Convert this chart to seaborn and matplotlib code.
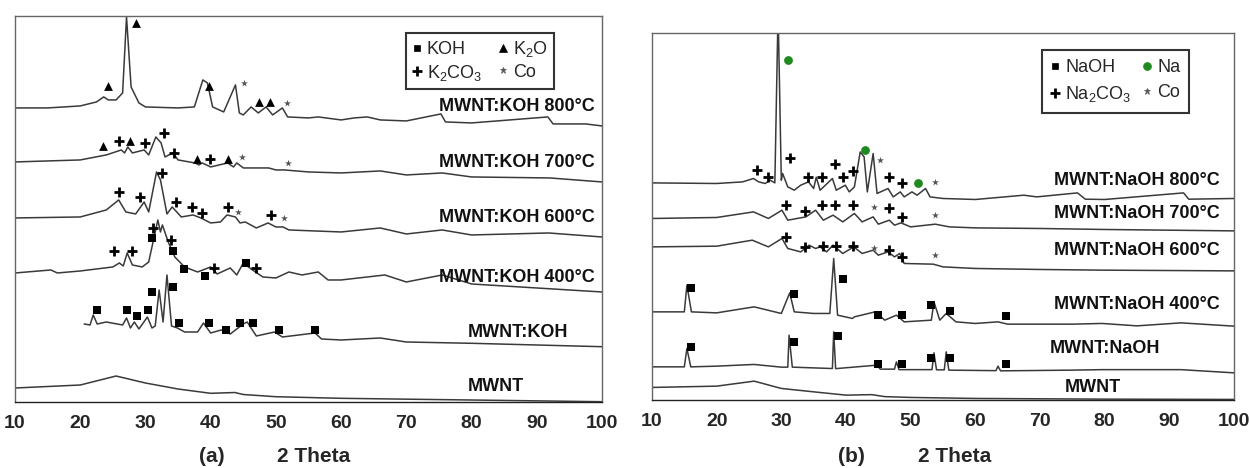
import pandas as pd
import seaborn as sns
import matplotlib.pyplot as plt
from matplotlib.lines import Line2D

# ---- panel (a): MWNT + KOH, 2 theta vs stacked intensity (a.u.) ----
a_mwnt_x = [10, 20, 25.5, 30, 35, 40, 43.7, 45, 50, 60, 80, 100]
a_mwnt_y = [14, 17, 26, 19, 13, 8.7, 9.5, 7.5, 5.3, 3.7, 2, 0.3]

a_koh_x = [20.6, 21.5, 22, 22.6, 24, 26.5, 27.1, 27.7, 28.3, 29, 30.3, 31, 31.5, 32.1, 32.7, 33.3,
           34, 34.9, 36, 38, 38.9, 40, 41.6, 43, 45, 45.6, 47, 49.8, 51, 56, 57, 60, 66, 70, 80, 100]
a_koh_y = [78, 77, 87, 78, 80, 77, 84, 74, 80, 73, 85, 74, 76, 112, 80, 127,
           76, 74, 70, 70, 79, 69, 72, 68, 78, 80, 66, 70, 65, 69, 63, 62, 64, 60, 58.7, 55.3]

a_400_x = [10, 15.5, 16.5, 20, 25, 26, 26.6, 27.2, 28, 29.5, 30.5, 31.9, 32.3, 32.6, 33.5, 34.5,
           36, 38, 40, 41, 43, 44, 45, 46.2, 48, 50, 52, 54, 56.5, 58, 60, 66.7, 70, 75.5, 80, 90, 100]
a_400_y = [129, 132, 129, 131, 135, 139, 136, 149, 137, 135, 140, 182, 170, 177, 160, 145,
           135, 130, 135, 128, 134, 127, 139, 133, 125, 124, 130, 127, 130, 122, 122, 127, 120, 127, 118, 114, 110]

a_600_x = [10, 20, 24, 25.9, 27, 28.5, 29.8, 30.5, 31.7, 32.3, 33.3, 34.1, 35.5, 37.3, 38.5, 40,
           41.5, 42.5, 43.8, 44.5, 45.3, 47, 48.8, 50, 51.1, 52, 60, 66, 70, 75.5, 80, 91.8, 100]
a_600_y = [184, 185, 192, 202, 190, 188, 200, 190, 230, 222, 188, 195, 185, 187, 184, 179,
           180, 187, 185, 179, 180, 174, 179, 175, 175, 172, 170, 174, 168, 172, 167, 169, 165]

a_700_x = [10, 20, 24, 26.3, 26.8, 27.3, 28, 29.8, 30.5, 31.6, 32.4, 33, 34.2, 35, 37.6, 38.2,
           38.7, 40, 42.6, 43.5, 44, 45, 48.9, 50, 51.3, 55, 60, 66, 70, 75.5, 80, 92, 100]
a_700_y = [240, 242, 247, 252, 249, 255, 249, 252, 247, 265, 259, 245, 249, 242, 239, 237,
           239, 235, 239, 235, 239, 234, 234, 232, 232, 230, 229, 231, 227, 229, 225, 224, 220]

a_800_x = [10, 15, 20, 22.5, 23.6, 24.3, 25.5, 26.5, 27.1, 27.8, 29, 30, 35, 37.5, 38.8, 39.5,
           40.3, 42, 43.8, 44.4, 45, 46.2, 47.3, 48.5, 49.5, 51, 51.8, 55, 56.5, 60, 62, 64,
           66, 70, 75.3, 76, 80, 91.7, 92.5, 97.5, 100]
a_800_y = [294, 294, 296, 300, 305, 302, 302, 309, 385, 315, 299, 295, 294, 295, 322, 319,
           295, 290, 317, 289, 287, 295, 289, 295, 287, 294, 285, 284, 285, 282, 284, 285,
           282, 281, 288, 280, 279, 285, 278, 278, 276]

a_names = ["MWNT", "MWNT:KOH", "MWNT:KOH 400°C", "MWNT:KOH 600°C", "MWNT:KOH 700°C", "MWNT:KOH 800°C"]
a_label_y = [16, 69, 124, 184, 239, 295]
a_label_x = [88, 94.8, 98.9, 98.9, 98.9, 98.9]

# peak markers (a)
a_mark_x = [28.6, 24.2, 39.7, 45.1, 47.4, 49.1, 51.7,
            23.5, 26.0, 27.7, 29.9, 32.8, 34.4, 37.9, 39.9, 42.6, 44.8, 51.8,
            26.0, 29.1, 32.5, 34.7, 37.1, 38.7, 42.6, 44.2, 49.3, 51.2,
            31.1, 31.0, 33.9, 34.2, 25.2, 27.9, 35.9, 39.1, 40.5, 45.4, 46.9,
            31.0, 34.2, 22.5, 27.2, 28.7, 30.4, 35.2, 39.8, 42.3, 44.5, 46.5, 50.5, 56.0]
a_mark_y = [379, 316, 316, 319, 300, 300, 299,
            256, 261, 261, 259, 269, 249, 243, 243, 243, 245, 239,
            210, 205, 229, 200, 195, 189, 195, 190, 187, 184,
            174, 164, 162, 151, 151, 151, 133, 126, 134, 139, 134,
            110, 115, 92, 92, 86, 92, 79, 79, 72, 79, 79, 72, 72]
a_mark_kind = (["K2O", "K2O", "K2O", "Co", "K2O", "K2O", "Co"]
               + ["K2O", "K2CO3", "K2O", "K2CO3", "K2CO3", "K2CO3", "K2O", "K2CO3", "K2O", "Co", "Co"]
               + ["K2CO3"] * 7 + ["Co", "K2CO3", "Co"]
               + ["K2CO3", "KOH", "K2CO3", "KOH", "K2CO3", "K2CO3", "KOH", "KOH", "K2CO3", "KOH", "K2CO3"]
               + ["KOH"] * 13)

# ---- panel (b): MWNT + NaOH ----
b_mwnt_x = [10, 20, 25.8, 30, 35, 40, 44, 46, 50, 60, 80, 100]
b_mwnt_y = [12.7, 14, 19, 11.7, 8.3, 5, 5.5, 3.5, 2.7, 1.7, 1, 0.7]

b_naoh_x = [10, 15, 15.4, 16, 20, 25.8, 30, 31, 31.2, 31.7, 37.5, 37.9, 38.1, 38.4, 44.8, 45.3,
            47.5, 47.8, 48.2, 53.3, 53.6, 54, 55.2, 55.5, 55.9, 63.2, 63.5, 63.9, 74.8, 79.6, 91.8, 100]
b_naoh_y = [33.3, 33.3, 51.7, 33.3, 34, 35.7, 33, 33, 65, 33, 31.7, 31.7, 68.3, 31.5, 35, 31,
            31, 38.3, 30.5, 30.5, 47.3, 30.3, 30.3, 48.3, 30, 29.5, 34, 29.3, 30, 30.5, 30.5, 27.3]

b_400_x = [10, 15, 15.4, 16.1, 20, 25.8, 30, 31.3, 32, 35, 37.5, 38.1, 38.7, 41, 41.3, 44.5,
           46, 47.8, 49, 53.2, 53.6, 54.5, 55.5, 57, 60, 63.5, 65, 75, 79.6, 85, 91.8, 100]
b_400_y = [88.3, 88.3, 115, 88.3, 87.3, 93.3, 86.7, 107.3, 88.3, 86.7, 86.7, 141.7, 85, 81.7, 83.3, 88.3,
           80, 85, 78.3, 80, 98.3, 80, 86.7, 78.3, 76.7, 78.3, 76, 76, 76.7, 74.3, 77.3, 74]

b_600_x = [10, 20, 25.5, 28, 30.1, 31, 33, 34.3, 35.3, 36, 37, 38, 39.5, 41.2, 42.5, 44.2,
           45, 46.5, 47.5, 48.3, 49, 53.5, 55, 60, 70, 80, 100]
b_600_y = [153.3, 154, 160, 153.3, 161.7, 151.7, 148.3, 155, 151.7, 153.3, 148.3, 155, 146.7, 153.3, 146.7, 150,
           145, 148.3, 143.3, 146.7, 136.7, 136, 133.3, 131.7, 130.7, 130, 129.3]

b_700_x = [10, 20, 25.7, 28, 30.1, 31, 33.8, 35.3, 36.5, 38, 39.5, 41.3, 42.5, 44.2, 45, 46.7,
           47.5, 48.5, 50, 53.8, 56, 60, 70, 80, 100]
b_700_y = [181.7, 182.7, 188.3, 181.7, 190, 180, 183.3, 190, 180, 185, 178.3, 186.7, 178.3, 183.3, 176, 180,
           175, 177.3, 173.3, 176, 173.3, 172.3, 171.7, 170.7, 169.3]

b_800_x = [10, 20, 24, 25.7, 26.5, 27.5, 28.3, 29, 29.5, 30, 30.2, 31, 32, 33, 34.2, 35, 35.4,
           36, 37.9, 38.5, 39.9, 40.5, 41.3, 42.2, 42.8, 43.3, 44.2, 44.8, 46.5, 47.3, 48.4,
           49, 50.2, 51, 52.3, 53, 55, 60, 67.5, 69.5, 75.8, 77, 80, 92.2, 93, 100]
b_800_y = [217.3, 216.7, 218.3, 221.7, 218.3, 216.7, 220, 217.3, 390, 220, 226.7, 213.3, 210, 215, 218.3, 211.7, 223,
           210, 221.7, 210, 215, 208.3, 213.3, 248.3, 243.3, 208.3, 246.7, 206.7, 211.7, 203.3, 208.3,
           203.3, 208.3, 205, 211.7, 203.3, 201.7, 200.7, 205, 203.3, 207.3, 201, 200.7, 207.3, 201, 201.7]

b_names = ["MWNT", "MWNT:NaOH", "MWNT:NaOH 400°C", "MWNT:NaOH 600°C", "MWNT:NaOH 700°C", "MWNT:NaOH 800°C"]
b_label_y = [13, 52, 96, 150, 187, 220]
b_label_x = [82.5, 88.5, 97.8, 97.8, 97.8, 97.8]

# peak markers (b)
b_mark_x = [31.1, 42.9, 51.2, 26.3, 28.0, 31.3, 34.1, 36.3, 38.3, 39.6, 41.1, 45.3, 46.7, 48.7, 53.7,
            30.8, 33.6, 36.3, 38.3, 41.1, 44.3, 46.7, 48.7, 53.7,
            30.8, 33.6, 36.4, 38.4, 41.1, 44.3, 46.7, 48.7, 53.7,
            16.1, 31.9, 39.5, 45.0, 48.7, 53.1, 56.1, 64.7,
            16.1, 31.9, 38.8, 45.0, 48.7, 53.1, 56.1, 64.7]
b_mark_y = [340, 250, 217, 230, 223, 242, 223, 223, 236, 223, 229, 240, 223, 217, 218,
            195, 189, 195, 195, 195, 193, 192, 183, 185,
            163, 153, 154, 154, 154, 152, 150, 143, 145,
            112, 106, 121, 85, 85, 95, 89, 84,
            53, 58, 64, 36, 36, 42, 42, 36]
b_mark_kind = (["Na", "Na", "Na"] + ["Na2CO3"] * 8 + ["Co", "Na2CO3", "Na2CO3", "Co"]
               + ["Na2CO3"] * 5 + ["Co", "Na2CO3", "Na2CO3", "Co"]
               + ["Na2CO3"] * 5 + ["Co", "Na2CO3", "Na2CO3", "Co"]
               + ["NaOH"] * 16)

sns.set_style("white")
plt.rcParams["font.family"] = ["Liberation Sans", "DejaVu Sans"]
plt.rcParams["mathtext.default"] = "regular"

# marker style per phase: (marker, size, color, edge width)
styles = {
    "KOH": ("s", 30, "black", 0), "NaOH": ("s", 30, "black", 0),
    "K2O": ("^", 40, "black", 0),
    "K2CO3": ("+", 60, "black", 2), "Na2CO3": ("+", 60, "black", 2),
    "Co": ("*", 28, "#555555", 0),
    "Na": ("o", 40, "#1f8a1f", 0),
}


def trace_frame(names, xs, ys):
    rows = []
    for name, x, y in zip(names, xs, ys):
        rows.append(pd.DataFrame({"theta": x, "h": y, "trace": name}))
    return pd.concat(rows, ignore_index=True)


def draw_panel(ax, df, names, lab_x, lab_y, mx, my, mk, ymax):
    sns.lineplot(data=df, x="theta", y="h", units="trace", estimator=None, sort=False,
                 color="#3a3a3a", lw=1.1, ax=ax)
    marks = pd.DataFrame({"theta": mx, "h": my, "kind": mk})
    for kind, sub in marks.groupby("kind"):
        m, s, c, lw = styles[kind]
        sns.scatterplot(data=sub, x="theta", y="h", marker=m, s=s, color=c,
                        linewidth=lw, edgecolor=c if lw else None, ax=ax, zorder=4)
    for name, x, y in zip(names, lab_x, lab_y):
        ax.text(x, y, name, ha="right", va="center", fontsize=13, fontweight="bold", color="#111111")
    ax.set_xlim(10, 100)
    ax.set_ylim(0, ymax)
    ax.set_xticks(range(10, 101, 10))
    ax.set_yticks([])
    ax.set_xlabel("")
    ax.set_ylabel("")
    ax.tick_params(axis="x", direction="out", length=4, width=1, labelsize=14, pad=5)
    for t in ax.get_xticklabels():
        t.set_fontweight("bold")
    for sp in ax.spines.values():
        sp.set_color("#666666")
        sp.set_linewidth(1)
    ax.spines["bottom"].set_color("#222222")


def legend_handle(kind, label):
    m, s, c, lw = styles[kind]
    return Line2D([], [], ls="none", marker=m, color=c, markersize=s ** 0.5 * 0.9,
                  markeredgewidth=lw if lw else 0.5, label=label)


fig = plt.figure(figsize=(12.49, 4.68), dpi=100)
ax_a = fig.add_axes([0.012, 0.141, 0.470, 0.825])
ax_b = fig.add_axes([0.522, 0.145, 0.466, 0.784])

df_a = trace_frame(a_names, [a_mwnt_x, a_koh_x, a_400_x, a_600_x, a_700_x, a_800_x],
                   [a_mwnt_y, a_koh_y, a_400_y, a_600_y, a_700_y, a_800_y])
draw_panel(ax_a, df_a, a_names, a_label_x, a_label_y, a_mark_x, a_mark_y, a_mark_kind, 386)

df_b = trace_frame(b_names, [b_mwnt_x, b_naoh_x, b_400_x, b_600_x, b_700_x, b_800_x],
                   [b_mwnt_y, b_naoh_y, b_400_y, b_600_y, b_700_y, b_800_y])
draw_panel(ax_b, df_b, b_names, b_label_x, b_label_y, b_mark_x, b_mark_y, b_mark_kind, 367)

leg_kw = dict(ncol=2, loc="upper right", fontsize=13, frameon=True, fancybox=False,
              handlelength=0.5, handletextpad=0.3, columnspacing=0.9, borderpad=0.35,
              labelspacing=0.25, borderaxespad=0)
leg_a = ax_a.legend(handles=[legend_handle("KOH", "KOH"), legend_handle("K2CO3", "K$_2$CO$_3$"),
                             legend_handle("K2O", "K$_2$O"), legend_handle("Co", "Co")],
                    bbox_to_anchor=(0.918, 0.956), **leg_kw)
leg_kw.update(borderpad=0.5, labelspacing=0.45, columnspacing=0.6)
leg_b = ax_b.legend(handles=[legend_handle("NaOH", "NaOH"), legend_handle("Na2CO3", "Na$_2$CO$_3$"),
                             legend_handle("Na", "Na"), legend_handle("Co", "Co")],
                    bbox_to_anchor=(0.923, 0.954), **leg_kw)
for leg in (leg_a, leg_b):
    leg.get_frame().set_edgecolor("black")
    leg.get_frame().set_linewidth(1.5)

fig.text(212 / 1249, 1 - 456 / 468, "(a)", ha="center", va="center", fontsize=15, fontweight="bold")
fig.text(314 / 1249, 1 - 456 / 468, "2 Theta", ha="center", va="center", fontsize=15, fontweight="bold")
fig.text(851 / 1249, 1 - 456 / 468, "(b)", ha="center", va="center", fontsize=15, fontweight="bold")
fig.text(955 / 1249, 1 - 456 / 468, "2 Theta", ha="center", va="center", fontsize=15, fontweight="bold")

fig.savefig("out.png", dpi=100)
